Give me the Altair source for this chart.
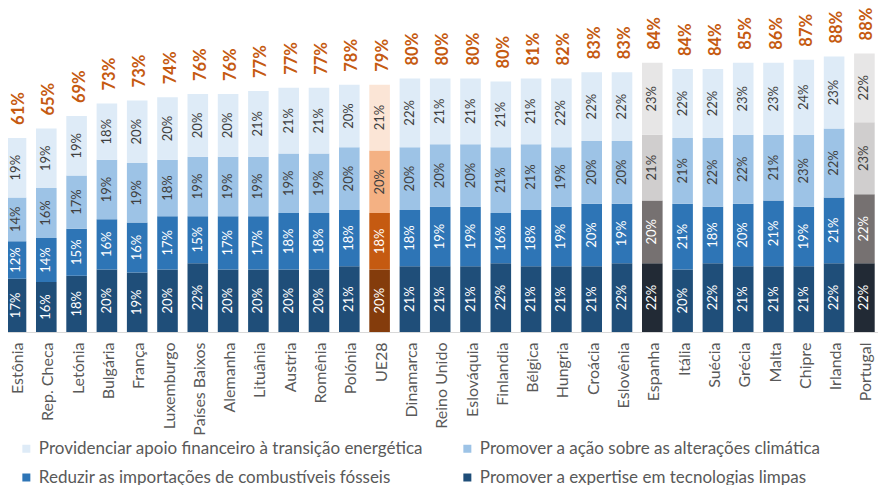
import altair as alt
import pandas as pd

paises = ["Estônia", "Rep. Checa", "Letónia", "Bulgária", "França", "Luxemburgo",
          "Países Baixos", "Alemanha", "Lituânia", "Austria", "Romênia", "Polónia",
          "UE28", "Dinamarca", "Reino Unido", "Eslováquia", "Finlandia", "Bélgica",
          "Hungria", "Croácia", "Eslovênia", "Espanha", "Itália", "Suécia", "Grécia",
          "Malta", "Chipre", "Irlanda", "Portugal"]

expertise = [17, 16, 18, 20, 19, 20, 22, 20, 20, 20, 20, 21, 20, 21, 21, 21, 22, 21, 21, 21, 22, 22, 20, 22, 21, 21, 21, 22, 22]
reduzir   = [12, 14, 15, 16, 16, 17, 15, 17, 17, 18, 18, 18, 18, 18, 19, 19, 16, 18, 19, 20, 19, 20, 21, 18, 20, 21, 19, 21, 22]
acao      = [14, 16, 17, 19, 19, 18, 19, 19, 19, 19, 19, 20, 20, 20, 20, 20, 21, 21, 19, 20, 20, 21, 21, 22, 22, 21, 23, 22, 23]
apoio     = [19, 19, 19, 18, 20, 20, 20, 20, 21, 21, 21, 20, 21, 22, 21, 21, 21, 21, 22, 22, 22, 23, 22, 22, 23, 23, 24, 23, 22]
totais    = [61, 65, 69, 73, 73, 74, 76, 76, 77, 77, 77, 78, 79, 80, 80, 80, 80, 81, 82, 83, 83, 84, 84, 84, 85, 86, 87, 88, 88]

series = ["Promover a expertise em tecnologias limpas",
          "Reduzir as importações de combustíveis fósseis",
          "Promover a ação sobre as alterações climática",
          "Providenciar apoio financeiro à transição energética"]
valores = [expertise, reduzir, acao, apoio]
destaque = {"UE28": "UE28", "Espanha": "PT/ES", "Portugal": "PT/ES"}

azuis = ["#1F4E79", "#2E75B6", "#9DC3E6", "#DEEBF7"]
laranjas = ["#843C0C", "#C55A11", "#F4B183", "#FBE5D6"]
cinzas = ["#222A35", "#767171", "#D0CECE", "#E7E6E6"]

rows = []
for i, p in enumerate(paises):
    g = destaque.get(p, "")
    for k, s in enumerate(series):
        rows.append({"pais": p, "serie": s, "ordem": k, "valor": valores[k][i],
                     "chave": s if not g else f"{g} · {s}"})
df = pd.DataFrame(rows)

topo = [sum(v[i] for v in valores) for i in range(len(paises))]
tot = pd.DataFrame({"pais": paises, "topo": topo, "rotulo": [f"{t}%" for t in totais]})

dom = series + [f"UE28 · {s}" for s in series] + [f"PT/ES · {s}" for s in series]
rng = azuis + laranjas + cinzas

# legend entries fill column by column
legend_vals = [series[3], series[1], series[2], series[0]]

FONT = "Lato"

x = alt.X("pais:N", sort=paises,
          scale=alt.Scale(paddingInner=0.32, paddingOuter=0.16),
          axis=alt.Axis(title=None, labelAngle=-90, labelFont=FONT, labelFontSize=16,
                        labelColor="#595959", labelPadding=10, ticks=False, labelOffset=2,
                        domainColor="#D9D9D9", domainWidth=1, labelLimit=300))
ysc = alt.Scale(domain=[0, 100], nice=False, zero=True)

base = alt.Chart(df).transform_stack(
    stack="valor", groupby=["pais"], as_=["v0", "v1"], sort=[alt.SortField("ordem")]
).transform_calculate(meio="(datum.v0 + datum.v1) / 2", rot="datum.valor + '%'")

bars = base.mark_bar().encode(
    x=x,
    y=alt.Y("v0:Q", scale=ysc, axis=None),
    y2="v1:Q",
    color=alt.Color("chave:N", scale=alt.Scale(domain=dom, range=rng),
                    legend=alt.Legend(values=legend_vals, title=None,
                                      orient="none", legendX=17, legendY=421,
                                      columns=2, columnPadding=36, rowPadding=11,
                                      symbolType="square", symbolSize=64,
                                      symbolStrokeWidth=0, labelFont=FONT,
                                      labelFontSize=17, labelColor="#595959",
                                      labelLimit=600, padding=0, labelOffset=4)),
)

textos = base.mark_text(angle=270, fontSize=13, font=FONT, baseline="middle", align="center").encode(
    x=x,
    y=alt.Y("meio:Q", scale=ysc, axis=None),
    text="rot:N",
    color=alt.condition("datum.ordem < 2", alt.value("white"), alt.value("#404040")),
)

totl = alt.Chart(tot).mark_text(angle=270, align="left", baseline="middle", dx=13, dy=3,
                                fontSize=16.5, fontWeight="bold", font=FONT,
                                color="#C55A11").encode(
    x=x,
    y=alt.Y("topo:Q", scale=ysc, axis=None),
    text="rotulo:N",
)

chart = alt.layer(bars, textos, totl).properties(
    width=878.7, height=313,
    padding={"left": -7.15, "right": -1.55, "top": 11, "bottom": 153},
    autosize=alt.AutoSizeParams(type="none"),
).configure_view(stroke=None)

chart.save("out.html", embed_options={"renderer": "svg", "actions": False})
